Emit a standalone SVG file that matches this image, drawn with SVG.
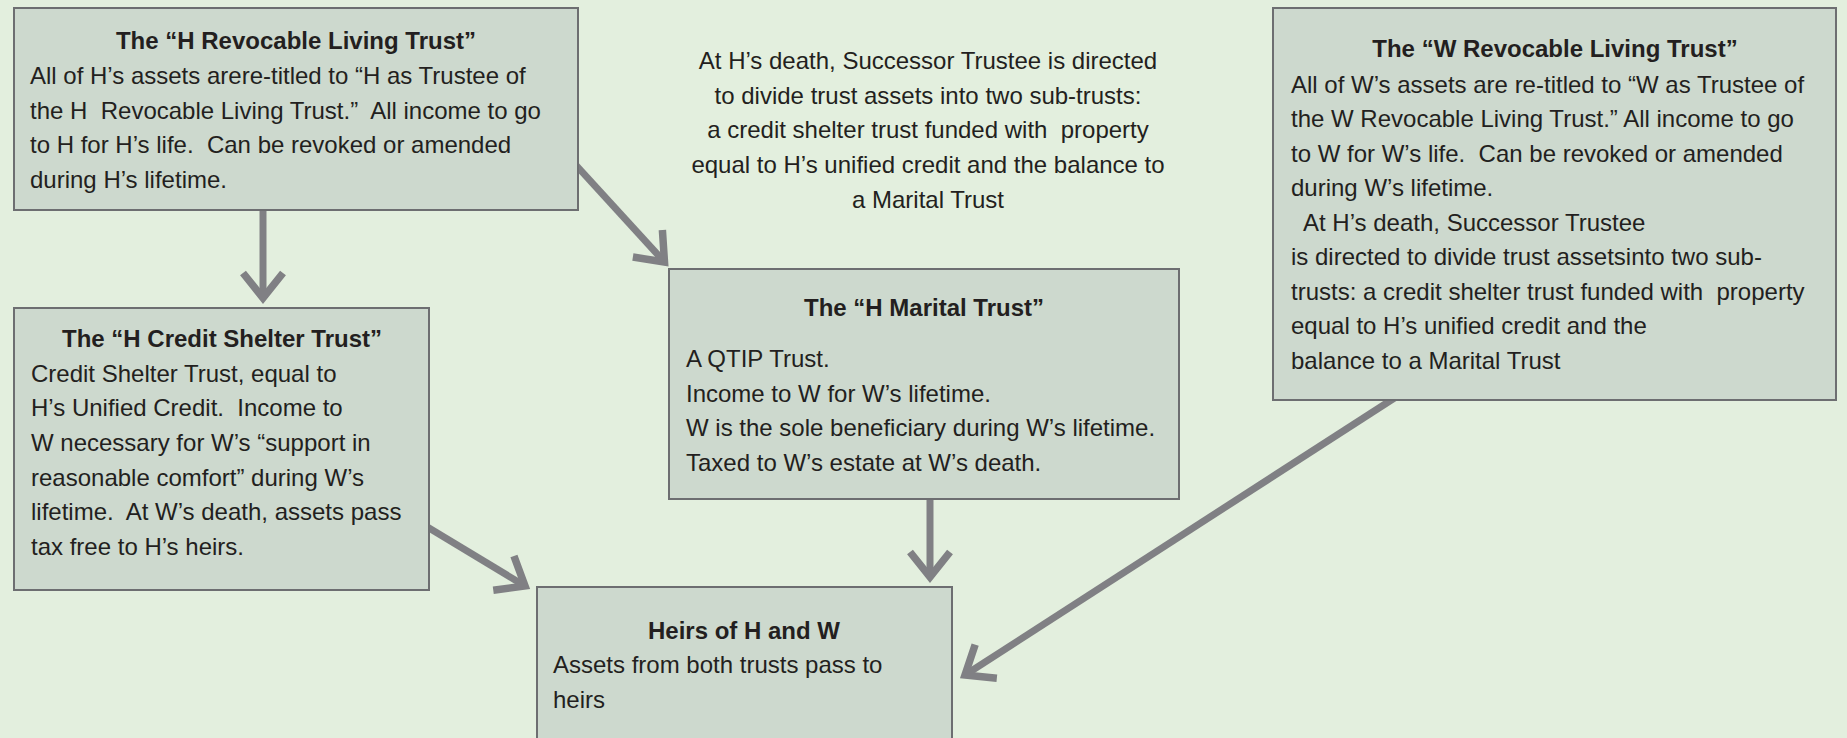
<svg xmlns="http://www.w3.org/2000/svg" width="1847" height="738" viewBox="0 0 1847 738">
  <style>
    .bg { fill: #e3efde; }
    .box { fill: #cdd9ce; stroke: #6d6e71; stroke-width: 2; }
    .t { font-family: "Liberation Sans", Arial, sans-serif; font-size: 24px; fill: #231f20; white-space: pre; }
    .b { font-weight: bold; text-anchor: middle; }
    .c { text-anchor: middle; }
    .conn { stroke: #808084; stroke-width: 7; fill: none; marker-end: url(#chev); }
  </style>
  <defs>
    <marker id="chev" markerUnits="userSpaceOnUse" markerWidth="70" markerHeight="70" viewBox="-40 -35 70 70" refX="0" refY="0" orient="auto">
      <polyline points="-25,-20 0,0 -25,20" fill="none" stroke="#808084" stroke-width="7.5" stroke-linejoin="miter" stroke-miterlimit="10"/>
    </marker>
  </defs>
  <rect class="bg" x="0" y="0" width="1847" height="738"/>

  <g id="connectors">
    <line class="conn" x1="263" y1="205" x2="263" y2="298"/>
    <line class="conn" x1="574" y1="163" x2="664.5" y2="262"/>
    <line class="conn" x1="424" y1="525" x2="525" y2="586"/>
    <line class="conn" x1="930" y1="495" x2="930" y2="577"/>
    <line class="conn" x1="1396" y1="397" x2="965" y2="675"/>
  </g>

  <g id="h-revocable">
    <rect class="box" x="14" y="8" width="564" height="202"/>
    <text class="t b" x="296" y="49">The “H Revocable Living Trust”</text>
    <text class="t" x="30" y="84">All of H’s assets arere-titled to “H as Trustee of</text>
    <text class="t" x="30" y="119">the H  Revocable Living Trust.”  All income to go</text>
    <text class="t" x="30" y="153">to H for H’s life.  Can be revoked or amended</text>
    <text class="t" x="30" y="188">during H’s lifetime.</text>
  </g>

  <g id="note">
    <text class="t c" x="928" y="69">At H’s death, Successor Trustee is directed</text>
    <text class="t c" x="928" y="104">to divide trust assets into two sub-trusts:</text>
    <text class="t c" x="928" y="138">a credit shelter trust funded with  property</text>
    <text class="t c" x="928" y="173">equal to H’s unified credit and the balance to</text>
    <text class="t c" x="928" y="208">a Marital Trust</text>
  </g>

  <g id="w-revocable">
    <rect class="box" x="1273" y="8" width="563" height="392"/>
    <text class="t b" x="1555" y="57">The “W Revocable Living Trust”</text>
    <text class="t" x="1291" y="93">All of W’s assets are re-titled to “W as Trustee of</text>
    <text class="t" x="1291" y="127">the W Revocable Living Trust.” All income to go</text>
    <text class="t" x="1291" y="162">to W for W’s life.  Can be revoked or amended</text>
    <text class="t" x="1291" y="196">during W’s lifetime.</text>
    <text class="t" x="1291" y="231">  At H’s death, Successor Trustee</text>
    <text class="t" x="1291" y="265">is directed to divide trust assetsinto two sub-</text>
    <text class="t" x="1291" y="300">trusts: a credit shelter trust funded with  property</text>
    <text class="t" x="1291" y="334">equal to H’s unified credit and the</text>
    <text class="t" x="1291" y="369">balance to a Marital Trust</text>
  </g>

  <g id="h-credit-shelter">
    <rect class="box" x="14" y="308" width="415" height="282"/>
    <text class="t b" x="222" y="347">The “H Credit Shelter Trust”</text>
    <text class="t" x="31" y="382">Credit Shelter Trust, equal to</text>
    <text class="t" x="31" y="416">H’s Unified Credit.  Income to</text>
    <text class="t" x="31" y="451">W necessary for W’s “support in</text>
    <text class="t" x="31" y="486">reasonable comfort” during W’s</text>
    <text class="t" x="31" y="520">lifetime.  At W’s death, assets pass</text>
    <text class="t" x="31" y="555">tax free to H’s heirs.</text>
  </g>

  <g id="h-marital">
    <rect class="box" x="669" y="269" width="510" height="230"/>
    <text class="t b" x="924" y="316">The “H Marital Trust”</text>
    <text class="t" x="686" y="367">A QTIP Trust.</text>
    <text class="t" x="686" y="402">Income to W for W’s lifetime.</text>
    <text class="t" x="686" y="436">W is the sole beneficiary during W’s lifetime.</text>
    <text class="t" x="686" y="471">Taxed to W’s estate at W’s death.</text>
  </g>

  <g id="heirs">
    <rect class="box" x="537" y="587" width="415" height="160"/>
    <text class="t b" x="744" y="639">Heirs of H and W</text>
    <text class="t" x="553" y="673">Assets from both trusts pass to</text>
    <text class="t" x="553" y="708">heirs</text>
  </g>
</svg>
